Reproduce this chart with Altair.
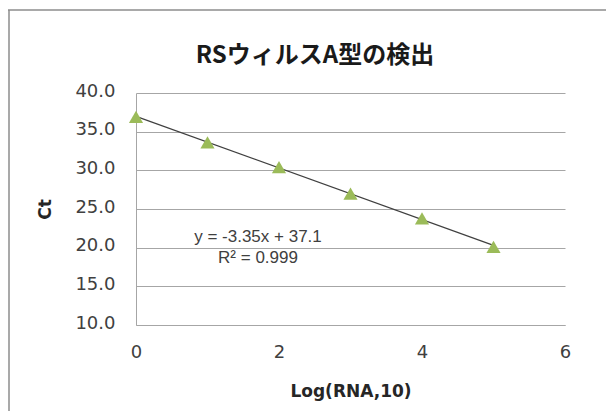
import altair as alt
import pandas as pd

# data
log_rna = [0, 1, 2, 3, 4, 5]
ct = [36.9, 33.6, 30.4, 27.0, 23.8, 20.1]
y_ticks = [10, 15, 20, 25, 30, 35, 40]
x_ticks = [0, 2, 4, 6]
title_text = "RSウィルスA型の検出"
x_title = "Log(RNA,10)"
y_title = "Ct"
eq_lines = ["y = -3.35x + 37.1", "R² = 0.999"]

df = pd.DataFrame({"x": log_rna, "y": ct})

W, H = 429, 232
GRID = "#a6a6a6"
LABEL = "#404040"
TITLEC = "#262626"
FRAME = "#8c8c8c"

xs = alt.Scale(domain=[0, 6], nice=False, zero=False)
ys = alt.Scale(domain=[10, 40], nice=False, zero=False)

x_enc = alt.X(
    "x:Q", scale=xs,
    axis=alt.Axis(values=x_ticks, title=x_title, grid=False, ticks=False,
                  labelFlush=False,
                  labelPadding=18, labelFont="DejaVu Sans", labelFontSize=18,
                  labelColor=LABEL, domainColor=GRID, domainWidth=1,
                  titleFont="DejaVu Sans", titleFontSize=17, titleFontWeight="bold",
                  titleColor=TITLEC, titleY=66, titleBaseline="middle"))
y_enc = alt.Y(
    "y:Q", scale=ys,
    axis=alt.Axis(values=y_ticks, format=".1f", title=y_title, grid=True,
                  gridColor=GRID, gridWidth=1, ticks=False, labelPadding=21,
                  labelFlush=False,
                  labelFont="DejaVu Sans", labelFontSize=18, labelColor=LABEL,
                  labelOffset=-2,
                  domainColor=GRID, domainWidth=1,
                  titleFont="DejaVu Sans", titleFontSize=17, titleFontWeight="bold",
                  titleColor=TITLEC, titleX=-91, titleY=116, titleAngle=-90,
                  titleAlign="center", titleBaseline="middle"))

one = pd.DataFrame({"a": [0]})
frame_left = alt.Chart(one).mark_rule(color=FRAME, strokeWidth=1.5).encode(
    x=alt.value(-127), y=alt.value(-83), y2=alt.value(400))
frame_top = alt.Chart(one).mark_rule(color=FRAME, strokeWidth=1.5).encode(
    x=alt.value(-128), x2=alt.value(520), y=alt.value(-83))

trend = alt.Chart(df).transform_regression(
    "x", "y", extent=[0, 5]
).mark_line(color="#404040", strokeWidth=1.2).encode(x=x_enc, y=y_enc)

points = alt.Chart(df).mark_point(
    shape="triangle-up", filled=True, size=200, color="#9BBB59", opacity=1
).encode(x=x_enc, y=y_enc)

eq1 = alt.Chart(pd.DataFrame({"t": [eq_lines[0]]})).mark_text(
    font="Liberation Sans", fontSize=17, color=LABEL, align="center", baseline="middle"
).encode(x=alt.value(122), y=alt.value(144), text="t:N")
eq2 = alt.Chart(pd.DataFrame({"t": [eq_lines[1]]})).mark_text(
    font="Liberation Sans", fontSize=17, color=LABEL, align="center", baseline="middle"
).encode(x=alt.value(122), y=alt.value(165), text="t:N")

title = alt.Chart(pd.DataFrame({"t": [title_text]})).mark_text(
    font="Noto Sans CJK JP", fontSize=24, fontWeight="bold", color="#1a1a1a",
    align="center", baseline="middle"
).encode(x=alt.value(179), y=alt.value(-37), text="t:N")

chart = alt.layer(frame_left, frame_top, trend, points, eq1, eq2, title).properties(
    width=W, height=H,
    autosize="none",
    padding={"left": 128, "top": 85, "right": 41, "bottom": 86},
    background="white",
).configure_view(stroke=None)

chart.save("out.html", embed_options={"renderer": "svg", "actions": False})
